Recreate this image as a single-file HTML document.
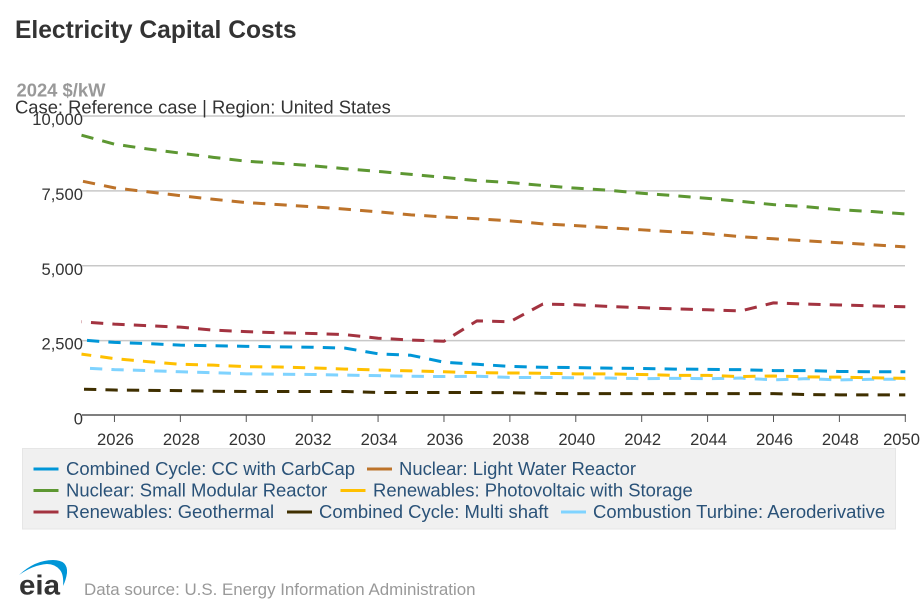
<!DOCTYPE html>
<html>
<head>
<meta charset="utf-8">
<style>
html,body{margin:0;padding:0;background:#fff;}
svg{display:block;font-family:"Liberation Sans",Arial,sans-serif;}
</style>
</head>
<body>
<svg id="chart" xmlns="http://www.w3.org/2000/svg" width="920" height="613" viewBox="0 0 920 613">
  <text x="15" y="38" font-size="24.6" font-weight="bold" fill="#333">Electricity Capital Costs</text>
  <text x="16.500" y="96.5" font-size="18.4" font-weight="bold" fill="#999">2024 $/kW</text>
  <g id="grid"></g>
  <g id="series"></g>
  <text x="15" y="113.500" font-size="18.4" fill="#333">Case: Reference case | Region: United States</text>
  <g id="legend">
    <rect x="22.5" y="448.5" width="873" height="80.5" fill="#f0f0f0" stroke="#e6e6e6"/>
  </g>
  <g>
    <path d="M19,575 Q35,560 53,560 Q68,560 67,573 Q66,580 63,586 Q64,575 60,570 Q55,564 47,564 Q33,565 19,575 Z" fill="#0096d7"/>
    <text x="19" y="594.500" font-size="28" font-weight="bold" fill="#333" textLength="41" lengthAdjust="spacingAndGlyphs">eia</text>
  </g>
  <text x="84" y="595" font-size="16.9" fill="#999">Data source: U.S. Energy Information Administration</text>
</svg>
<script>
const years = [2025,2026,2027,2028,2029,2030,2031,2032,2033,2034,2035,2036,2037,2038,2039,2040,2041,2042,2043,2044,2045,2046,2047,2048,2049,2050];
const yTicks = [0,2500,5000,7500,10000];
const xTicks = [2026,2028,2030,2032,2034,2036,2038,2040,2042,2044,2046,2048,2050];

const ccCarbCap = [2520,2440,2400,2350,2330,2310,2290,2280,2250,2060,2010,1780,1710,1640,1610,1600,1580,1570,1550,1540,1530,1500,1500,1470,1460,1460];
const nuclearLwr = [7830,7600,7470,7340,7220,7110,7040,6970,6890,6800,6700,6630,6570,6500,6400,6340,6270,6200,6130,6070,5970,5900,5830,5770,5700,5630];
const nuclearSmr = [9360,9060,8900,8760,8620,8490,8420,8340,8240,8150,8050,7950,7840,7780,7680,7590,7520,7420,7340,7250,7150,7040,6970,6870,6810,6730];
const solarStorage = [2050,1900,1800,1710,1680,1630,1620,1590,1550,1520,1490,1460,1430,1420,1410,1390,1390,1370,1340,1340,1300,1320,1290,1280,1260,1240];
const geothermal = [3130,3050,3000,2950,2850,2800,2760,2740,2700,2580,2520,2480,3160,3130,3720,3700,3640,3600,3560,3530,3490,3760,3720,3690,3660,3630];
const ccMultiShaft = [880,850,840,830,810,800,800,800,800,770,770,770,770,760,740,730,730,730,730,730,730,730,700,690,690,690];
const ctAero = [1590,1530,1500,1460,1430,1390,1380,1370,1350,1330,1310,1300,1310,1270,1270,1260,1250,1230,1240,1230,1250,1190,1230,1190,1210,1210];

const seriesNames = ["Combined Cycle: CC with CarbCap","Nuclear: Light Water Reactor","Nuclear: Small Modular Reactor","Renewables: Photovoltaic with Storage","Renewables: Geothermal","Combined Cycle: Multi shaft","Combustion Turbine: Aeroderivative"];
const seriesValues = [ccCarbCap,nuclearLwr,nuclearSmr,solarStorage,geothermal,ccMultiShaft,ctAero];
const seriesColors = ["#0096d7","#bd732a","#5d9732","#ffc000","#a33340","#3f2f00","#7fd3ff"];
const seriesKeys = ["cc-carbcap","nuclear-lwr","nuclear-smr","solar-storage","geothermal","cc-multi-shaft","ct-aero"];
const seriesDashOffset = [-5.5,-1.5,0,2.5,-9.5,-2.5,-8.5];

const NS = "http://www.w3.org/2000/svg";
function xScale(v){ return 81.5 + (v - 2025) * (905.3 - 81.5) / 25; }
function yScale(v){ return 415.5 - v * (415.5 - 116) / 10000; }
function make(tag, attrs, parent, text){
  const el = document.createElementNS(NS, tag);
  for (const k in attrs) el.setAttribute(k, attrs[k]);
  if (text !== undefined) el.textContent = text;
  parent.appendChild(el);
  return el;
}
const grid = document.getElementById("grid");
yTicks.forEach(function(t){
  if (t !== 0) {
    const g = make("line", {x1:82, x2:905, y1:yScale(t), y2:yScale(t), stroke:"#c8c8c8", "stroke-width":1.5}, grid);
    
    
  }
  const l = make("text", {x:83, y:yScale(t)+9, "text-anchor":"end", "font-size":16.6, fill:"#333"}, grid, t.toLocaleString("en-US"));
  
  
});
const axis = make("line", {x1:82, x2:906, y1:415, y2:415, stroke:"#555", "stroke-width":1.5}, grid);


xTicks.forEach(function(t, i){
  const tick = make("line", {x1:xScale(t), x2:xScale(t), y1:415, y2:422, stroke:"#555", "stroke-width":1}, grid);
  
  
  const isLast = i === xTicks.length - 1;
  const l = make("text", {x:isLast ? 920 : xScale(t)+1, y:445, "text-anchor":isLast ? "end" : "middle", "font-size":16.6, fill:"#333"}, grid, String(t));
  
  
});
const seriesG = document.getElementById("series");
for (let i = seriesValues.length - 1; i >= 0; i--) {
  const vals = seriesValues[i];
  const d = vals.map(function(v, j){ return (j ? "L" : "M") + xScale(years[j]).toFixed(2) + "," + yScale(v).toFixed(2); }).join(" ");
  const p = make("path", {d:d, fill:"none", stroke:seriesColors[i], "stroke-width":3, "stroke-dasharray":"12.3 9.15", "stroke-dashoffset":seriesDashOffset[i], "stroke-linejoin":"round"}, seriesG);
  
  
}
const legendRows = [
  {row:0, sym:33.5, text:66, idx:0},{row:0, sym:367, text:399, idx:1},
  {row:1, sym:33.5, text:66, idx:2},{row:1, sym:340.5, text:373, idx:3},
  {row:2, sym:33.5, text:66, idx:4},{row:2, sym:287, text:319, idx:5},{row:2, sym:561, text:593, idx:6}
];
const rowY = [469, 490.5, 512];
const legend = document.getElementById("legend");
legendRows.forEach(function(e){
  const g = make("g", {}, legend);
  
  
  const s = make("line", {x1:e.sym, x2:e.sym+25, y1:rowY[e.row], y2:rowY[e.row], stroke:seriesColors[e.idx], "stroke-width":3}, g);
  
  
  const t = make("text", {x:e.text, y:rowY[e.row]+6, "font-size":18.45, fill:"#2a5278"}, g, seriesNames[e.idx]);
  
  
});
</script>
</body>
</html>
